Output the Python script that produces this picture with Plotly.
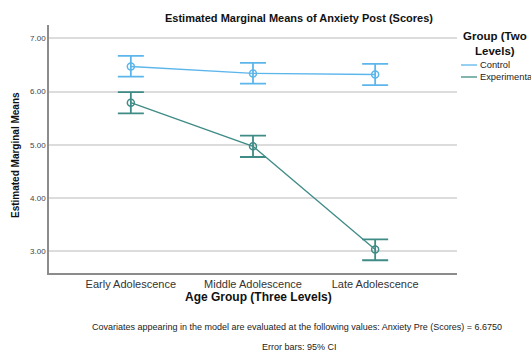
import plotly.graph_objects as go

categories = ["Early Adolescence", "Middle Adolescence", "Late Adolescence"]
control_mean = [6.47, 6.34, 6.32]
control_low = [6.28, 6.15, 6.12]
control_high = [6.67, 6.54, 6.52]
exp_mean = [5.79, 4.97, 3.03]
exp_low = [5.59, 4.77, 2.83]
exp_high = [5.99, 5.17, 3.22]
y_ticks = [3, 4, 5, 6, 7]
y_ticklabels = ["3.00", "4.00", "5.00", "6.00", "7.00"]

C_CTRL = "#5CB6EC"
C_EXP = "#3F8B86"
FONT = "Liberation Sans, Arial, sans-serif"

W, H = 531, 353
ML, MR, MT, MB = 49, 74, 25, 80

xs = list(range(len(categories)))
fig = go.Figure()

def add_series(mean, low, high, color, lw):
    fig.add_trace(go.Scatter(
        x=xs, y=mean, mode="lines+markers",
        line=dict(color=color, width=lw),
        marker=dict(symbol="circle-open", size=7, color=color, line=dict(width=1.5)),
        error_y=dict(type="data", symmetric=False,
                     array=[h - m for h, m in zip(high, mean)],
                     arrayminus=[m - l for m, l in zip(mean, low)],
                     color=color, thickness=1.8, width=13),
        showlegend=False, hoverinfo="skip"))

add_series(control_mean, control_low, control_high, C_CTRL, 1.3)
add_series(exp_mean, exp_low, exp_high, C_EXP, 1.3)

fig.update_layout(
    width=W, height=H,
    margin=dict(l=ML, r=MR, t=MT, b=MB, autoexpand=False),
    paper_bgcolor="white", plot_bgcolor="white",
    font=dict(family=FONT, color="#222"),
    showlegend=False,
    xaxis=dict(range=[-0.67, 2.67], tickvals=xs, ticktext=categories,
               showgrid=False, zeroline=False, showline=True, automargin=False,
               linecolor="#8c8c8c", linewidth=1.5, ticks="",
               tickfont=dict(size=11, color="#333", family=FONT)),
    yaxis=dict(range=[2.59, 7.25], tickvals=y_ticks, ticktext=y_ticklabels,
               showgrid=True, gridcolor="#dcdcdc", gridwidth=1.5, automargin=False,
               zeroline=False, showline=True, linecolor="#8c8c8c", linewidth=1.5,
               ticks="", tickfont=dict(size=8, color="#444", family=FONT)),
)

def px_x(v):
    return (v - ML) / (W - ML - MR)

def px_y(v):
    return 1 - (v - MT) / (H - MT - MB)

annotations = [
    dict(text="<b>Estimated Marginal Means of Anxiety Post (Scores)</b>",
         x=299, y=18, font=dict(size=11, color="#111")),
    dict(text="<b>Group (Two<br>Levels)</b>", x=495, y=43,
         font=dict(size=11.5, color="#111")),
    dict(text="Control", x=478, y=65, xanchor="left", font=dict(size=9.3, color="#222")),
    dict(text="Experimental", x=478, y=77, xanchor="left", font=dict(size=9.3, color="#222")),
    dict(text="<b>Age Group (Three Levels)</b>", x=258, y=297,
         font=dict(size=12, color="#111")),
    dict(text="<b>Estimated Marginal Means</b>", x=15, y=155, textangle=-90,
         font=dict(size=10, color="#111")),
    dict(text="Covariates appearing in the model are evaluated at the following values: Anxiety Pre (Scores) = 6.6750",
         x=297, y=327, font=dict(size=9, color="#222")),
    dict(text="Error bars: 95% CI", x=299, y=347, font=dict(size=9, color="#222")),
]
for a in annotations:
    xa = a.pop("x"); ya = a.pop("y")
    fig.add_annotation(x=px_x(xa), y=px_y(ya), xref="paper", yref="paper",
                       showarrow=False, xanchor=a.pop("xanchor", "center"),
                       yanchor="middle", **a)

for ypix, col in [(65, C_CTRL), (77, C_EXP)]:
    fig.add_shape(type="line", xref="paper", yref="paper",
                  x0=px_x(461), x1=px_x(477), y0=px_y(ypix), y1=px_y(ypix),
                  line=dict(color=col, width=1.3))

fig.write_html("out.html", config={"displayModeBar": False},
               post_script="document.body.style.margin='0';document.body.style.overflow='hidden';")
